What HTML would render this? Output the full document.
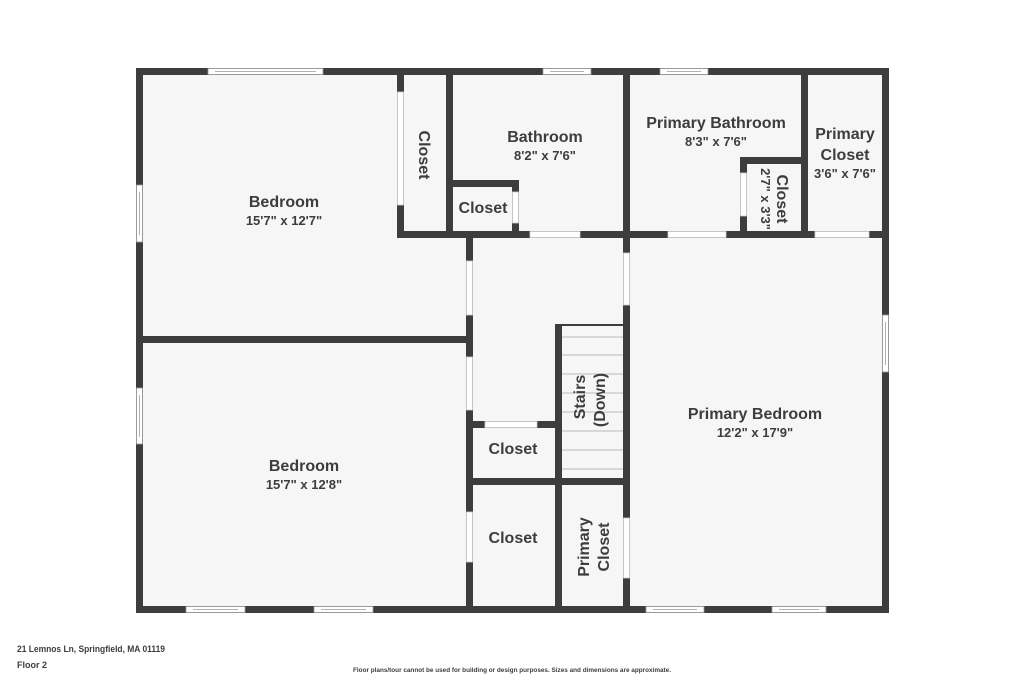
<!DOCTYPE html>
<html><head><meta charset="utf-8"><style>
html,body{margin:0;padding:0;background:#fff;}
svg{display:block;}
text{font-family:"Liberation Sans",sans-serif;fill:#3d3d3d;font-weight:bold;}
</style></head><body>
<svg width="1024" height="683" viewBox="0 0 1024 683" xmlns="http://www.w3.org/2000/svg">
<rect x="0" y="0" width="1024" height="683" fill="#fff"/>
<rect x="139" y="71" width="747" height="539" fill="#f6f6f6"/>
<g fill="#3d3d3d">
<rect x="136" y="68" width="753" height="7"/>
<rect x="136" y="606" width="753" height="7"/>
<rect x="136" y="68" width="7" height="545"/>
<rect x="882" y="68" width="7" height="545"/>
<rect x="397" y="71" width="7" height="167"/>
<rect x="446" y="71" width="7" height="167"/>
<rect x="397" y="231" width="489" height="7"/>
<rect x="449" y="180" width="70" height="7"/>
<rect x="512" y="180" width="7" height="55"/>
<rect x="623" y="71" width="7" height="540"/>
<rect x="801" y="71" width="7" height="165"/>
<rect x="740" y="157" width="66" height="7"/>
<rect x="740" y="157" width="7" height="78"/>
<rect x="139" y="336" width="334" height="7"/>
<rect x="466" y="235" width="7" height="375"/>
<rect x="469" y="421" width="92" height="7"/>
<rect x="555" y="324" width="7" height="286"/>
<rect x="469" y="478" width="158" height="7"/>
</g>
<g fill="#fff" stroke="#cfcfcf" stroke-width="0.8">
<rect x="397.5" y="92" width="6" height="113"/>
<rect x="512.5" y="192" width="6" height="31"/>
<rect x="530" y="231.5" width="50" height="6"/>
<rect x="668" y="231.5" width="58" height="6"/>
<rect x="740.5" y="173" width="6" height="43"/>
<rect x="815" y="231.5" width="54" height="6"/>
<rect x="466.5" y="261" width="6" height="54"/>
<rect x="466.5" y="357" width="6" height="53"/>
<rect x="466.5" y="512" width="6" height="50"/>
<rect x="623.5" y="253" width="6" height="52"/>
<rect x="623.5" y="518" width="6" height="60"/>
<rect x="485" y="421.5" width="52" height="6"/>
</g>
<g fill="#fff" stroke="#999" stroke-width="0.8">
<rect x="208" y="68.5" width="115" height="6"/><line x1="215" y1="71.5" x2="316" y2="71.5"/>
<rect x="543" y="68.5" width="48" height="6"/><line x1="550" y1="71.5" x2="584" y2="71.5"/>
<rect x="660" y="68.5" width="48" height="6"/><line x1="667" y1="71.5" x2="701" y2="71.5"/>
<rect x="136.5" y="185" width="6" height="57"/><line x1="139.5" y1="192" x2="139.5" y2="235"/>
<rect x="136.5" y="388" width="6" height="56"/><line x1="139.5" y1="395" x2="139.5" y2="437"/>
<rect x="882.5" y="315" width="6" height="57"/><line x1="885.5" y1="322" x2="885.5" y2="365"/>
<rect x="186" y="606.5" width="59" height="6"/><line x1="193" y1="609.5" x2="238" y2="609.5"/>
<rect x="314" y="606.5" width="59" height="6"/><line x1="321" y1="609.5" x2="366" y2="609.5"/>
<rect x="646" y="606.5" width="58" height="6"/><line x1="653" y1="609.5" x2="697" y2="609.5"/>
<rect x="772" y="606.5" width="54" height="6"/><line x1="779" y1="609.5" x2="819" y2="609.5"/>
</g>
<g stroke="#bbb" stroke-width="1">
<line x1="562" y1="325" x2="623" y2="325" stroke="#3d3d3d" stroke-width="2"/>
<line x1="562" y1="337" x2="623" y2="337"/>
<line x1="562" y1="355" x2="623" y2="355"/>
<line x1="562" y1="374" x2="623" y2="374"/>
<line x1="562" y1="393" x2="623" y2="393"/>
<line x1="562" y1="412" x2="623" y2="412"/>
<line x1="562" y1="431" x2="623" y2="431"/>
<line x1="562" y1="450" x2="623" y2="450"/>
<line x1="562" y1="469" x2="623" y2="469"/>
</g>
<g text-anchor="middle">
<text x="284" y="207" font-size="16">Bedroom</text>
<text x="284" y="225" font-size="13">15'7" x 12'7"</text>
<text x="304" y="471" font-size="16">Bedroom</text>
<text x="304" y="489" font-size="13">15'7" x 12'8"</text>
<text x="545" y="142" font-size="16">Bathroom</text>
<text x="545" y="160" font-size="13">8'2" x 7'6"</text>
<text x="716" y="128" font-size="16">Primary Bathroom</text>
<text x="716" y="146" font-size="13">8'3" x 7'6"</text>
<text x="845" y="139" font-size="16">Primary</text>
<text x="845" y="160" font-size="16">Closet</text>
<text x="845" y="178" font-size="13">3'6" x 7'6"</text>
<text x="483" y="213" font-size="16">Closet</text>
<text x="513" y="454" font-size="16">Closet</text>
<text x="513" y="543" font-size="16">Closet</text>
<text x="755" y="419" font-size="16">Primary Bedroom</text>
<text x="755" y="437" font-size="13">12'2" x 17'9"</text>
<text transform="translate(419,155) rotate(90)" font-size="16">Closet</text>
<text transform="translate(777,199) rotate(90)" font-size="16">Closet</text>
<text transform="translate(761,199) rotate(90)" font-size="13">2'7" x 3'3"</text>
<text transform="translate(585,397) rotate(-90)" font-size="16">Stairs</text>
<text transform="translate(605,400) rotate(-90)" font-size="16">(Down)</text>
<text transform="translate(589,547) rotate(-90)" font-size="16">Primary</text>
<text transform="translate(609,547) rotate(-90)" font-size="16">Closet</text>
</g>
<text x="17" y="652" font-size="9" textLength="148" lengthAdjust="spacingAndGlyphs">21 Lemnos Ln, Springfield, MA 01119</text>
<text x="17" y="668" font-size="9">Floor 2</text>
<text x="353" y="672" font-size="6" textLength="318" lengthAdjust="spacingAndGlyphs">Floor plans/tour cannot be used for building or design purposes. Sizes and dimensions are approximate.</text>
</svg>
</body></html>
